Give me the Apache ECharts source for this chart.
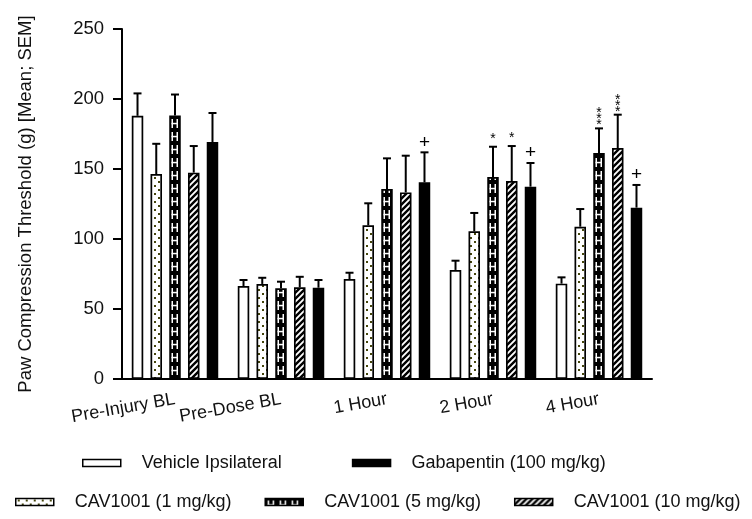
<!DOCTYPE html>
<html>
<head>
<meta charset="utf-8">
<script src="https://cdn.jsdelivr.net/npm/echarts@6/dist/echarts.min.js"></script>
<style>html,body{margin:0;padding:0;background:#fff;}#c{width:752px;height:519px;}</style>
</head>
<body>
<div id="c"></div>
<script>
// ---- data ----
const categories = ['Pre-Injury BL', 'Pre-Dose BL', '1 Hour', '2 Hour', '4 Hour'];
const seriesNames = ['Vehicle Ipsilateral', 'CAV1001 (1 mg/kg)', 'CAV1001 (5 mg/kg)', 'CAV1001 (10 mg/kg)', 'Gabapentin (100 mg/kg)'];
const vehicleMean = [188, 66.4, 71.4, 77.9, 68.1];
const vehicleSem  = [16, 4.3, 4.5, 6.6, 4.5];
const cav1Mean    = [146.4, 67.9, 109.8, 105.5, 108.8];
const cav1Sem     = [21.6, 4.4, 15.7, 13.1, 12.6];
const cav5Mean    = [188.3, 64.8, 135.7, 144.3, 161.4];
const cav5Sem     = [14.9, 4.7, 21.9, 21.6, 17.6];
const cav10Mean   = [147.4, 65.5, 133.3, 141.4, 165];
const cav10Sem    = [19, 7.5, 26.2, 25, 23.8];
const gabaMean    = [169.3, 65.2, 140.5, 137.4, 122.4];
const gabaSem     = [20.7, 5.5, 21.4, 16.9, 16.2];
const vehicleSig  = ['', '', '', '', ''];
const cav1Sig     = ['', '', '', '', ''];
const cav5Sig     = ['', '', '', '*', '***'];
const cav10Sig    = ['', '', '', '*', '***'];
const gabaSig     = ['', '', '+', '+', '+'];
const yTicks = { min: 0, max: 250, interval: 50 };

const means = [vehicleMean, cav1Mean, cav5Mean, cav10Mean, gabaMean];
const sems = [vehicleSem, cav1Sem, cav5Sem, cav10Sem, gabaSem];
const sigs = [vehicleSig, cav1Sig, cav5Sig, cav10Sig, gabaSig];

// ---- patterns ----
function mk(w, h, draw) {
  const c = document.createElement('canvas'); c.width = w; c.height = h;
  const g = c.getContext('2d'); draw(g); return c;
}
const dotCanvas = mk(8, 8, g => {
  g.fillStyle = '#fff'; g.fillRect(0, 0, 8, 8);
  g.fillStyle = '#45450c';
  g.fillRect(2, 1, 2, 2); g.fillRect(6, 5, 2, 2);
});
const stripeCanvas = mk(6, 6, g => {
  g.fillStyle = '#fff'; g.fillRect(0, 0, 6, 6);
  g.strokeStyle = '#000'; g.lineWidth = 2.4;
  g.beginPath();
  g.moveTo(-1, 7); g.lineTo(7, -1);
  g.moveTo(-4, 4); g.lineTo(4, -4);
  g.moveTo(2, 10); g.lineTo(10, 2);
  g.stroke();
});
const hCanvas = mk(12, 13, g => {
  g.fillStyle = '#000'; g.fillRect(0, 0, 12, 13);
  g.fillStyle = '#fff';
  g.fillRect(2.5, 2, 1.5, 9);
  g.fillRect(7.5, 2, 1.5, 9);
  g.fillRect(2.5, 5.8, 6.5, 1.5);
});

const fills = [
  '#ffffff',
  { image: dotCanvas, repeat: 'repeat' },
  { image: hCanvas, repeat: 'repeat' },
  { image: stripeCanvas, repeat: 'repeat' },
  '#000000'
];

const BAR_W = 11.5;
const BAR_GAP = 0.63;
const PITCH = BAR_W * (1 + BAR_GAP);
const FONT = '"Liberation Sans", Arial, sans-serif';

const chart = echarts.init(document.getElementById('c'), null, { renderer: 'canvas' });

function barSeries(k, itemColors) {
  return {
    name: seriesNames[k],
    type: 'bar',
    barWidth: BAR_W,
    barGap: (BAR_GAP * 100) + '%',
    data: means[k].map((v, j) => itemColors ? { value: v, itemStyle: { color: itemColors[j] } } : v),
    itemStyle: { color: fills[k], borderColor: '#000', borderWidth: 1.7 },
    emphasis: { disabled: true },
    z: 2
  };
}

function errSeries(k) {
  return {
    name: 'err' + k,
    type: 'custom',
    z: 5,
    silent: true,
    data: means[k].map((v, j) => [j, v, sems[k][j]]),
    renderItem: function (params, api) {
      const j = api.value(0), m = api.value(1), s = api.value(2);
      const p0 = api.coord([j, m]);
      const p1 = api.coord([j, m + s]);
      const x = p0[0] + (k - 2) * PITCH;
      const children = [
        { type: 'line', shape: { x1: x, y1: p0[1], x2: x, y2: p1[1] }, style: { stroke: '#000', lineWidth: 2 } },
        { type: 'line', shape: { x1: x - 4, y1: p1[1], x2: x + 4, y2: p1[1] }, style: { stroke: '#000', lineWidth: 2 } }
      ];
      const sig = sigs[k][j];
      if (sig === '+') {
        children.push({ type: 'text', style: { text: '+', x: x, y: p1[1] - 10, align: 'center', verticalAlign: 'middle', font: '19px ' + FONT, fill: '#000' } });
      } else if (sig) {
        for (let q = 0; q < sig.length; q++) {
          const cy = p1[1] - 7 - (sig.length - 1 - q) * 6 - (sig.length === 1 ? 5 : 0);
          children.push({ type: 'text', style: { text: '*', x: x, y: cy + 4, align: 'center', verticalAlign: 'middle', font: '14px ' + FONT, fill: '#000' } });
        }
      }
      return { type: 'group', children: children };
    }
  };
}

function buildOption(cav5Colors) {
  const series = [];
  for (let k = 0; k < 5; k++) series.push(barSeries(k, k === 2 ? cav5Colors : null));
  for (let k = 0; k < 5; k++) series.push(errSeries(k));
  return {
    animation: false,
    backgroundColor: '#fff',
    textStyle: { fontFamily: FONT },
    grid: { left: 122, right: 100, top: 29, bottom: 140, containLabel: false },
    legend: [
      {
        data: [seriesNames[0], seriesNames[4]],
        left: 77, top: 449, itemWidth: 38, itemHeight: 7, itemGap: 70,
        icon: 'rect', selectedMode: false,
        itemStyle: { borderColor: '#000', borderWidth: 1.5 },
        textStyle: { fontSize: 18, color: '#111', padding: [0, 0, 0, 16] }
      },
      {
        data: [seriesNames[1], seriesNames[2], seriesNames[3]],
        left: 10, top: 488, itemWidth: 38, itemHeight: 7, itemGap: 33,
        icon: 'rect', selectedMode: false,
        itemStyle: { borderColor: '#000', borderWidth: 1.5 },
        textStyle: { fontSize: 18, color: '#111', padding: [0, 0, 0, 16] }
      }
    ],
    xAxis: {
      type: 'category',
      data: categories,
      axisLine: { lineStyle: { color: '#000', width: 2 } },
      axisTick: { alignWithLabel: true, length: 9, lineStyle: { color: '#000', width: 2 } },
      axisLabel: { rotate: 10, margin: 20, fontSize: 18, color: '#111', interval: 0 }
    },
    yAxis: {
      type: 'value',
      min: yTicks.min, max: yTicks.max, interval: yTicks.interval,
      name: 'Paw Compression Threshold (g) [Mean; SEM]',
      nameLocation: 'middle', nameGap: 87, nameRotate: 90,
      nameTextStyle: { fontSize: 18.5, color: '#111' },
      axisLine: { show: true, lineStyle: { color: '#000', width: 2 } },
      axisTick: { show: true, length: 9, lineStyle: { color: '#000', width: 2 } },
      axisLabel: { margin: 18, fontSize: 18.5, color: '#111' },
      splitLine: { show: false }
    },
    series: series
  };
}

chart.setOption(buildOption(null));
// align the H pattern of the 5 mg/kg bars with each bar's left edge
const cav5Colors = categories.map((c, j) => {
  const cx = chart.convertToPixel({ xAxisIndex: 0 }, j);
  const left = cx - BAR_W / 2;
  return { image: hCanvas, repeat: 'repeat', x: Math.round(left), y: 0 };
});
chart.setOption(buildOption(cav5Colors));
</script>
</body>
</html>
